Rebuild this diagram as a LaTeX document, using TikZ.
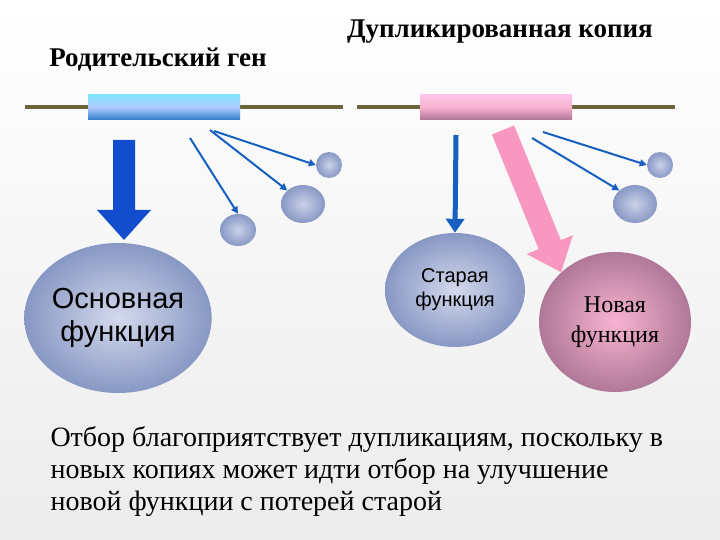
\documentclass[tikz,border=0pt]{standalone}
\usepackage{fontspec}
\setmainfont{Liberation Serif}
\setsansfont{Liberation Sans}
\usetikzlibrary{shapes.geometric,shapes.arrows,arrows.meta}
\definecolor{olive}{HTML}{6B6637}
\definecolor{arrblue}{HTML}{1560C0}
\definecolor{ellblue}{HTML}{A8B4DA}
\definecolor{elldark}{HTML}{8898C4}
\definecolor{pinkar}{HTML}{F898C0}
\definecolor{pinkin}{HTML}{F8B4D0}
\definecolor{pinkout}{HTML}{B07898}
\tikzset{
  gene/.style={draw=none,minimum width=152pt,minimum height=25pt,inner sep=0},
  ell/.style={ellipse,draw=none,inner sep=0,align=center},
  blob/.style={ellipse,draw=none,inner sep=0,inner color=ellblue!60!white,outer color=elldark},
  thin/.style={draw=arrblue,line width=2pt,-{Triangle[length=7pt,width=7pt]}},
  title/.style={font=\bfseries\fontsize{27}{30}\selectfont}
}
\begin{document}
\begin{tikzpicture}[x=1pt,y=-1pt]
\useasboundingbox (0,0) rectangle (720,540);
\fill[top color=white, bottom color=gray!15] (0,0) rectangle (720,540);
\node[title] (t1) at (158,60) {Родительский ген};
\node[title] (t2) at (500,32) {Дупликированная копия};
\coordinate (l1a) at (25,107); \coordinate (l1b) at (343,107);
\coordinate (l2a) at (357,107); \coordinate (l2b) at (675,107);
\draw[olive,line width=4pt] (l1a) -- (l1b);
\draw[olive,line width=4pt] (l2a) -- (l2b);
\node[gene,top color=blue!20!cyan!50!white, bottom color=blue!50!cyan!60!gray, middle color=cyan!30!blue!30!white] (g1) at (164,107) {};
\node[gene,top color=pink!70!magenta!50!white, bottom color=pinkout, middle color=pinkin] (g2) at (496,107) {};
% left
\node[ell,font=\sffamily\fontsize{29}{33}\selectfont,minimum width=184pt,minimum height=150pt,inner color=ellblue!50!white,outer color=elldark] (e1) at (118,318) {Основная\\функция};
\coordinate (a1) at (124,140);
\fill[arrblue!80!blue] (a1) ++(-11,0) -- ++(0,70) -- ++(-16,0) -- (124,240) -- (151,210) -- (135,210) -- (135,140) -- cycle;
\node[blob,minimum width=36pt,minimum height=32pt] (b1) at (238,230) {};
\node[blob,minimum width=44pt,minimum height=38pt] (b2) at (303,204) {};
\node[blob,minimum width=26pt,minimum height=26pt] (b3) at (329,165) {};
\coordinate (s1) at (190,138); \coordinate (s2) at (210,130); \coordinate (s3) at (214,131);
\draw[thin] (s1) -- (b1.north);
\draw[thin] (s2) -- (b2.north west);
\draw[thin] (s3) -- (b3.west);
% right
\node[ell,font=\sffamily\fontsize{20}{24}\selectfont,minimum width=140pt,minimum height=114pt,inner color=ellblue!50!white,outer color=elldark] (e2) at (455,290) {Старая\\функция};
\node[ell,font=\fontsize{24}{30}\selectfont,minimum width=152pt,minimum height=140pt,inner color=pinkin,outer color=pinkout] (e3) at (615,322) {Новая\\функция};
\coordinate (s4) at (456,135);
\draw[arrblue,line width=5pt,-{Triangle[length=14pt,width=18pt]}] (s4) -- (e2.north);
\coordinate (s5) at (503,130);
\draw[pinkar,line width=24pt,-{Triangle[length=30pt,width=48pt]}] (s5) -- (e3.north west);
\node[blob,minimum width=44pt,minimum height=38pt] (b4) at (635,204) {};
\node[blob,minimum width=26pt,minimum height=26pt] (b5) at (660,165) {};
\coordinate (s6) at (532,138); \coordinate (s7) at (543,132);
\draw[thin] (s6) -- (b4.north west);
\draw[thin] (s7) -- (b5.west);
\node[anchor=north west,align=left,font=\fontsize{28}{32}\selectfont] (txt) at (47,423) {Отбор благоприятствует дупликациям, поскольку в\\новых копиях может идти отбор на улучшение\\новой функции с потерей старой};
\end{tikzpicture}
\end{document}
